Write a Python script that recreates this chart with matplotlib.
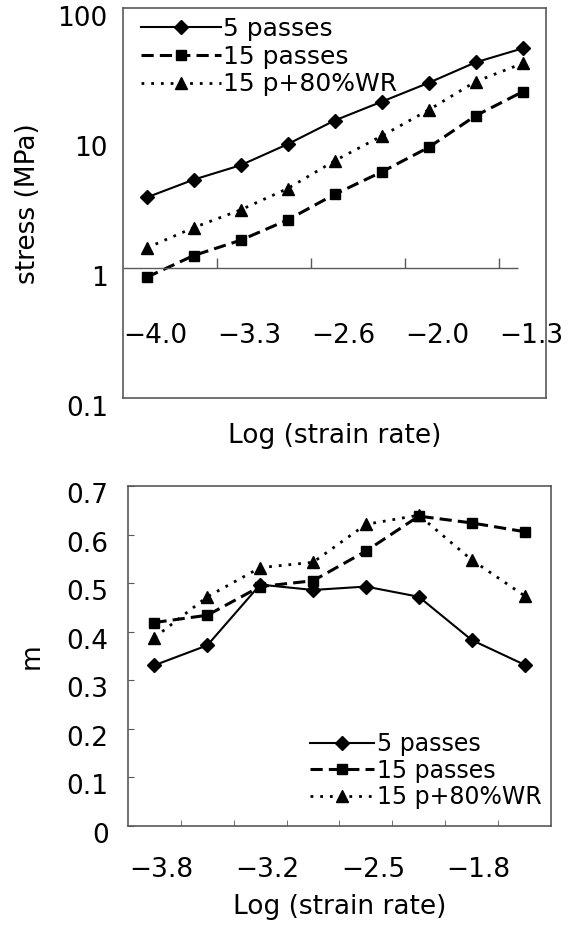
import numpy as np
import matplotlib
matplotlib.use('Agg')
from matplotlib import pyplot as plt
from matplotlib.transforms import ScaledTranslation

plt.rcParams['font.family'] = 'DejaVu Sans'

# Series names
series_names = ['5 passes', '15 passes', '15 p+80%WR']

# Top panel: flow stress (MPa) at 9 strain rates
stress_xlabels = ['\u22124.0', '\u22123.3', '\u22122.6', '\u22122.0', '\u22121.3']
stress_5p = [3.5, 4.8, 6.2, 9.0, 13.7, 19.1, 26.7, 38.4, 49.2]
stress_15p = [0.85, 1.25, 1.64, 2.35, 3.7, 5.5, 8.5, 14.9, 22.8]
stress_wr = [1.43, 2.05, 2.81, 4.1, 6.7, 10.4, 16.5, 27.3, 37.7]
stress_yticks = [0.1, 1, 10, 100]
stress_yticklabels = ['0.1', '1', '10', '100']

# Bottom panel: strain rate sensitivity m at 8 strain rates
m_xlabels = ['\u22123.8', '\u22123.2', '\u22122.5', '\u22121.8']
m_5p = [0.331, 0.372, 0.497, 0.486, 0.493, 0.472, 0.383, 0.332]
m_15p = [0.419, 0.434, 0.493, 0.505, 0.566, 0.638, 0.624, 0.606]
m_wr = [0.388, 0.472, 0.532, 0.543, 0.621, 0.640, 0.548, 0.474]
m_yticks = [0, 0.1, 0.2, 0.3, 0.4, 0.5, 0.6, 0.7]
m_yticklabels = ['0', '0.1', '0.2', '0.3', '0.4', '0.5', '0.6', '0.7']

# line styles for the three series
styles = [
    dict(color='k', ls='-', lw=1.5, marker='D', ms=7),
    dict(color='k', ls=(0, (4, 2)), lw=2.2, marker='s', ms=7.5),
    dict(color='k', ls=(0, (1, 2.5)), lw=2, marker='^', ms=8.5),
]

fs = 19
frame_col = '0.35'

fig = plt.figure(figsize=(5.7, 9.3), dpi=100)


def shift(dx_px, dy_px):
    # small pixel offset, the scanned labels sit a bit off their ticks
    return ScaledTranslation(dx_px / fig.dpi, dy_px / fig.dpi, fig.dpi_scale_trans)


# ---------------- top: stress ----------------
ax1 = fig.add_axes([0.216, 0.572, 0.742, 0.419])
x1 = np.arange(len(stress_5p))
for ys, name, st in zip([stress_5p, stress_15p, stress_wr], series_names, styles):
    ax1.plot(x1, ys, label=name, **st)

ax1.set_yscale('log')
ax1.set_ylim(0.1, 100)
ax1.set_xlim(-0.5, len(x1) - 0.5)
ax1.set_yticks(stress_yticks, stress_yticklabels)
ax1.yaxis.set_minor_locator(matplotlib.ticker.NullLocator())
ax1.tick_params(axis='y', length=0, pad=11, labelsize=fs)
ax1.set_xticks([])
for lab in ax1.get_yticklabels():
    lab.set_transform(lab.get_transform() + shift(0, -8))

# Excel style category axis crossing at stress = 1
ax1.hlines(1, -0.5, len(x1) - 1.1, color=frame_col, lw=1)
ax1.vlines(np.arange(1.5, len(x1), 2), 1, 1.19, color=frame_col, lw=1)
for i, lab in zip(range(0, len(x1), 2), stress_xlabels):
    ax1.text(i, 0.30, lab, ha='center', va='center', fontsize=fs,
             transform=ax1.transData + shift(9, 0))

ax1.set_xlabel('Log (strain rate)', fontsize=fs, labelpad=18)
ax1.set_ylabel('stress (MPa)', fontsize=fs, va='center')
ax1.yaxis.set_label_coords(-0.225, 0.5)

ax1.legend(loc='upper left', bbox_to_anchor=(0.012, 1.01), frameon=False,
           fontsize=18, handlelength=3.2, handletextpad=0.1, labelspacing=0.15,
           borderaxespad=0.3, borderpad=0.2, numpoints=1)

# ---------------- bottom: m ----------------
ax2 = fig.add_axes([0.2246, 0.1118, 0.742, 0.3656])
x2 = np.arange(len(m_5p))
for ys, name, st in zip([m_5p, m_15p, m_wr], series_names, styles):
    ax2.plot(x2, ys, label=name, **st)

ax2.set_xlim(-0.5, len(x2) - 0.5)
ax2.set_ylim(0, 0.7)
ax2.set_yticks(m_yticks, m_yticklabels)
ax2.tick_params(axis='y', direction='in', length=4, pad=14, labelsize=fs, color=frame_col)
ax2.set_xticks(range(0, len(x2), 2), m_xlabels)
ax2.tick_params(axis='x', which='major', length=0, pad=22, labelsize=fs)
ax2.set_xticks(np.arange(0.5, len(x2) - 0.5, 1), minor=True)
ax2.tick_params(axis='x', which='minor', direction='in', length=4, color=frame_col)
for lab in ax2.get_yticklabels():
    lab.set_transform(lab.get_transform() + shift(0, -7))
for lab in ax2.get_xticklabels():
    lab.set_transform(lab.get_transform() + shift(7, 0))

ax2.set_xlabel('Log (strain rate)', fontsize=fs, labelpad=8)
ax2.set_ylabel('m', fontsize=fs, va='center')
ax2.yaxis.set_label_coords(-0.229, 0.5)

ax2.legend(loc='lower right', bbox_to_anchor=(1.005, 0.015), frameon=False,
           fontsize=17, handlelength=2.7, handletextpad=0.1, labelspacing=0.1,
           borderaxespad=0.3, borderpad=0.2, numpoints=1)

for ax in (ax1, ax2):
    for sp in ax.spines.values():
        sp.set_color(frame_col)
        sp.set_linewidth(1.2)

fig.savefig('out.png', dpi=100)
